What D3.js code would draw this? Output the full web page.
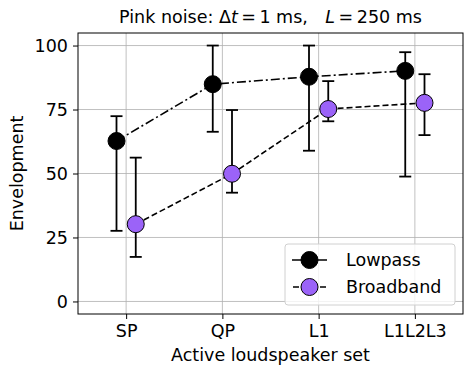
<!DOCTYPE html>
<html>
<head>
<meta charset="utf-8">
<script src="https://cdn.jsdelivr.net/npm/d3@7"></script>
<style>
  body { margin: 0; background: #fff; }
  text { font-family: "DejaVu Sans", sans-serif; }
</style>
</head>
<body>
<div id="chart"></div>
<script>
const categories = ["SP", "QP", "L1", "L1L2L3"];
const seriesNames = ["Lowpass", "Broadband"];
const lowpassMean = [62.7, 84.9, 87.8, 90.1];
const lowpassHigh = [72.4, 100, 100, 97.4];
const lowpassLow = [27.6, 66.3, 58.9, 48.8];
const broadMean = [30.2, 49.9, 75.2, 77.6];
const broadHigh = [56.2, 74.8, 86.1, 88.8];
const broadLow = [17.4, 42.5, 70.4, 65.0];
const yTicks = [0, 25, 50, 75, 100];

const width = 465;
const height = 367;
const margin = { top: 33, right: 2, bottom: 53, left: 78 };
const chartWidth = width - margin.left - margin.right;
const chartHeight = height - margin.top - margin.bottom;
const fs = "17.5px";

const series = [
  { name: seriesNames[0], mean: lowpassMean, hi: lowpassHigh, lo: lowpassLow,
    offset: -0.1, fill: "#000000", dash: "9,3,2,3" },
  { name: seriesNames[1], mean: broadMean, hi: broadHigh, lo: broadLow,
    offset: 0.1, fill: "#9b63f8", dash: "6,3" }
];

const svg = d3.select("#chart")
  .append("svg")
  .attr("width", width)
  .attr("height", height);

const g = svg.append("g")
  .attr("transform", `translate(${margin.left},${margin.top})`);

const x = d3.scaleLinear()
  .domain([-0.5, 3.5])
  .range([0, chartWidth]);

const y = d3.scaleLinear()
  .domain([-4.9, 104.9])
  .range([chartHeight, 0]);

// grid
g.append("g").selectAll("line")
  .data(categories)
  .join("line")
  .attr("x1", (d, i) => x(i)).attr("x2", (d, i) => x(i))
  .attr("y1", 0).attr("y2", chartHeight)
  .attr("stroke", "#b0b0b0").attr("stroke-width", 0.8);

g.append("g").selectAll("line")
  .data(yTicks)
  .join("line")
  .attr("x1", 0).attr("x2", chartWidth)
  .attr("y1", d => y(d)).attr("y2", d => y(d))
  .attr("stroke", "#b0b0b0").attr("stroke-width", 0.8);

// axes
const xAxis = d3.axisBottom(x)
  .tickValues(d3.range(categories.length))
  .tickFormat(i => categories[i])
  .tickSize(5).tickPadding(6);
const yAxis = d3.axisLeft(y)
  .tickValues(yTicks)
  .tickSize(5).tickPadding(5);

const gx = g.append("g")
  .attr("transform", `translate(0,${chartHeight})`)
  .call(xAxis);
const gy = g.append("g").call(yAxis);

[gx, gy].forEach(a => {
  a.select(".domain").remove();
  a.selectAll("text").attr("font-size", fs).attr("fill", "#000")
    .style("font-family", "DejaVu Sans, sans-serif");
  a.selectAll("line").attr("stroke", "#000").attr("stroke-width", 1);
});

// series
series.forEach(s => {
  const line = d3.line()
    .x((d, i) => x(i + s.offset))
    .y(d => y(d));
  g.append("path")
    .datum(s.mean)
    .attr("d", line)
    .attr("fill", "none")
    .attr("stroke", "#000")
    .attr("stroke-width", 1.6)
    .attr("stroke-dasharray", s.dash);

  const eb = g.append("g");
  s.mean.forEach((m, i) => {
    const cx = x(i + s.offset);
    eb.append("line")
      .attr("x1", cx).attr("x2", cx)
      .attr("y1", y(s.lo[i])).attr("y2", y(s.hi[i]))
      .attr("stroke", "#000").attr("stroke-width", 1.8);
    [s.lo[i], s.hi[i]].forEach(v => {
      eb.append("line")
        .attr("x1", cx - 6).attr("x2", cx + 6)
        .attr("y1", y(v)).attr("y2", y(v))
        .attr("stroke", "#000").attr("stroke-width", 1.8);
    });
  });

  g.append("g").selectAll("circle")
    .data(s.mean)
    .join("circle")
    .attr("cx", (d, i) => x(i + s.offset))
    .attr("cy", d => y(d))
    .attr("r", 8.5)
    .attr("fill", s.fill)
    .attr("stroke", "#000")
    .attr("stroke-width", 1);
});

// frame
g.append("rect")
  .attr("width", chartWidth).attr("height", chartHeight)
  .attr("fill", "none").attr("stroke", "#000").attr("stroke-width", 1);

// legend
const lg = svg.append("g").attr("transform", "translate(285,244)");
lg.append("rect")
  .attr("width", 170).attr("height", 61).attr("rx", 3)
  .attr("fill", "#fff").attr("fill-opacity", 0.8)
  .attr("stroke", "#d0d0d0").attr("stroke-width", 1);
series.forEach((s, i) => {
  const ly = 16 + i * 27;
  lg.append("line")
    .attr("x1", 7).attr("x2", 42).attr("y1", ly).attr("y2", ly)
    .attr("stroke", "#000").attr("stroke-width", 1.6)
    .attr("stroke-dasharray", i === 0 ? null : "6,3")
    .attr("stroke-dashoffset", i === 0 ? null : -1);
  lg.append("circle")
    .attr("cx", 24.5).attr("cy", ly).attr("r", 8.5)
    .attr("fill", s.fill).attr("stroke", "#000").attr("stroke-width", 1);
  lg.append("text")
    .attr("x", 61).attr("y", ly + 6)
    .attr("font-size", fs)
    .text(s.name);
});

// title
const title = svg.append("text")
  .attr("x", margin.left + chartWidth / 2)
  .attr("y", 23)
  .attr("text-anchor", "middle")
  .attr("font-size", "17.5px");
title.append("tspan").text("Pink noise: \u0394");
title.append("tspan").attr("font-style", "italic").text("t");
title.append("tspan").text("\u2009=\u20091 ms,\u2002\u2002");
title.append("tspan").attr("font-style", "italic").text("L");
title.append("tspan").text("\u2009=\u2009250 ms");

// axis labels
svg.append("text")
  .attr("x", margin.left + chartWidth / 2)
  .attr("y", 361)
  .attr("text-anchor", "middle")
  .attr("font-size", fs)
  .text("Active loudspeaker set");

svg.append("text")
  .attr("transform", `translate(23,${margin.top + chartHeight / 2}) rotate(-90)`)
  .attr("text-anchor", "middle")
  .attr("font-size", fs)
  .text("Envelopment");
</script>
</body>
</html>
